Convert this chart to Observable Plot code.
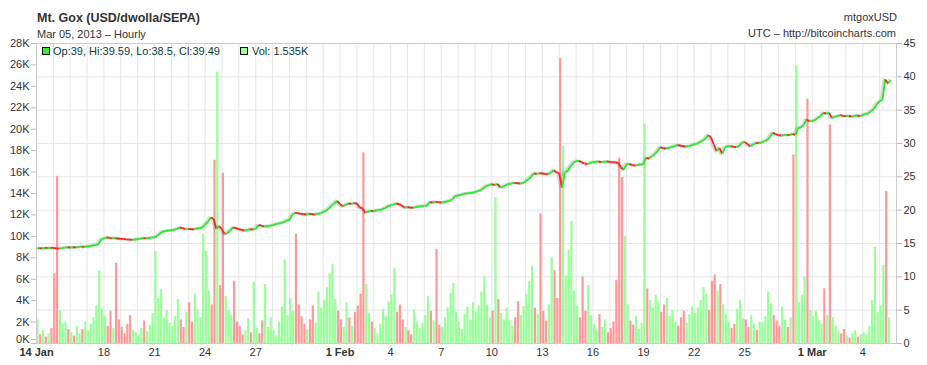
<!DOCTYPE html>
<html>
<head>
<meta charset="utf-8">
<script src="https://cdn.jsdelivr.net/npm/d3@7"></script>
<script src="https://cdn.jsdelivr.net/npm/@observablehq/plot@0.6"></script>
<style>
  html, body { margin: 0; padding: 0; background: #fff; }
  #wrap { position: relative; width: 927px; height: 365px; }
  #overlay { position: absolute; left: 0; top: 0; pointer-events: none; }
  text { font-family: "Liberation Sans", Arial, sans-serif; }
</style>
</head>
<body>
<div id="wrap"></div>
<script>
// ---- data (4-hour candles starting 14 Jan 2013 00:00 UTC) ----
const firstOpen = 14.30;
// closing price (USD) of each 4-hour candle, one row per day
const closeByDay = [
  [14.30, 14.27, 14.33, 14.30, 14.35, 14.34], // Jan 14
  [14.28, 14.24, 14.32, 14.38, 14.42, 14.40],
  [14.44, 14.41, 14.48, 14.52, 14.50, 14.58],
  [14.62, 14.70, 14.78, 14.85, 15.60, 15.75],
  [15.90, 15.85, 15.80, 15.82, 15.75, 15.70],
  [15.68, 15.62, 15.58, 15.55, 15.60, 15.65],
  [15.72, 15.80, 15.78, 15.84, 15.88, 15.92],
  [16.15, 16.50, 16.80, 16.85, 16.95, 17.00],
  [17.05, 17.20, 17.40, 17.30, 17.15, 17.20],
  [17.15, 17.10, 17.25, 17.30, 17.40, 17.80],
  [18.25, 18.90, 18.70, 17.20, 17.60, 17.10], // Jan 24
  [16.40, 16.60, 17.00, 17.40, 17.30, 17.15],
  [17.05, 16.95, 17.00, 17.15, 17.10, 17.20],
  [17.75, 17.70, 17.55, 17.60, 17.65, 17.75],
  [17.85, 18.00, 18.05, 18.20, 18.45, 18.50],
  [19.30, 19.60, 19.55, 19.45, 19.40, 19.35],
  [19.45, 19.40, 19.35, 19.45, 19.50, 19.70],
  [19.90, 20.20, 20.70, 21.00, 21.40, 20.90],
  [20.60, 20.80, 21.00, 20.95, 21.05, 21.00], // Feb 1
  [20.40, 20.30, 19.60, 19.80, 19.90, 19.85],
  [19.95, 20.05, 20.10, 20.30, 20.60, 20.70],
  [20.85, 21.00, 20.90, 20.70, 20.40, 20.45],
  [20.40, 20.35, 20.45, 20.55, 20.60, 20.65],
  [20.70, 21.20, 21.15, 21.25, 21.20, 21.15],
  [21.20, 21.30, 21.40, 21.60, 22.10, 22.20],
  [22.30, 22.45, 22.50, 22.55, 22.60, 22.70],
  [22.85, 22.95, 23.30, 23.60, 23.75, 23.90],
  [23.75, 23.95, 23.45, 23.50, 23.75, 23.90], // Feb 10
  [24.00, 24.10, 24.05, 24.00, 24.05, 24.30],
  [24.60, 25.00, 25.50, 25.45, 25.55, 25.50],
  [25.45, 25.40, 25.60, 26.00, 25.70, 25.50],
  [23.40, 25.60, 25.90, 26.60, 27.10, 27.35],
  [27.40, 27.20, 27.00, 26.90, 27.05, 27.20],
  [27.25, 27.30, 27.20, 27.25, 27.30, 27.25],
  [27.20, 27.15, 27.10, 26.40, 26.10, 26.90],
  [26.95, 26.75, 26.70, 26.80, 26.85, 26.90],
  [27.85, 27.75, 28.10, 28.40, 28.85, 29.45], // Feb 19
  [29.30, 29.25, 29.35, 29.45, 29.60, 29.75],
  [29.70, 29.60, 29.55, 29.60, 29.70, 29.90],
  [29.95, 30.20, 30.40, 30.75, 31.25, 30.90],
  [29.85, 28.85, 29.35, 28.45, 29.40, 29.60],
  [29.60, 29.50, 29.45, 29.60, 30.10, 30.25],
  [29.90, 29.60, 29.80, 30.10, 30.05, 30.15],
  [30.35, 30.50, 31.00, 31.60, 31.40, 31.25],
  [31.20, 31.25, 31.30, 31.25, 31.45, 31.30],
  [32.35, 32.40, 32.75, 33.60, 33.35, 33.40], // Feb 28
  [33.50, 33.85, 34.10, 34.60, 34.50, 34.60], // Mar 1
  [33.85, 34.00, 34.10, 34.25, 34.15, 34.10],
  [34.15, 34.05, 34.10, 34.20, 34.10, 34.25],
  [34.45, 34.50, 34.85, 35.20, 35.90, 36.30],
  [36.60, 39.60, 39.00, 39.49]                // Mar 5
];
// volume (thousands of BTC) of each bar, one row per day
const volumeByDay = [
  [2.2, 0.8, 1.2, 0.6, 0.9, 1.4],
  [6.5, 15.6, 3.1, 1.8, 2.0, 1.3],
  [1.0, 0.7, 1.6, 0.9, 1.3, 2.0],
  [1.2, 1.8, 2.4, 3.5, 6.8, 3.2],
  [2.5, 1.6, 3.0, 1.4, 7.5, 2.2],
  [1.5, 0.9, 1.8, 2.6, 1.2, 1.0],
  [0.8, 1.4, 2.1, 1.1, 1.7, 2.8],
  [8.6, 4.2, 5.0, 2.4, 3.1, 1.9],
  [1.6, 2.5, 4.1, 2.2, 1.5, 2.9],
  [3.8, 2.0, 4.6, 3.2, 2.4, 10.2],
  [8.6, 4.9, 3.6, 17.1, 25.3, 5.4],
  [15.9, 4.4, 3.1, 2.6, 5.8, 2.0],
  [1.6, 0.8, 1.2, 2.3, 1.0, 5.7],
  [1.4, 0.9, 2.1, 5.5, 1.5, 2.4],
  [1.2, 0.7, 2.0, 3.4, 7.8, 2.6],
  [4.2, 3.0, 10.2, 3.6, 2.5, 1.8],
  [1.3, 2.2, 3.5, 1.9, 4.8, 3.3],
  [4.0, 5.2, 6.5, 7.4, 4.1, 3.0],
  [2.2, 1.5, 3.8, 2.4, 1.6, 2.9],
  [3.5, 4.6, 17.8, 5.5, 2.8, 2.0],
  [1.4, 0.9, 1.8, 3.2, 2.5, 3.9],
  [4.5, 7.0, 2.9, 3.6, 2.2, 1.5],
  [1.2, 0.8, 3.1, 2.0, 1.4, 1.9],
  [2.6, 4.4, 3.0, 2.1, 8.8, 1.7],
  [1.5, 2.4, 3.3, 4.7, 5.6, 2.9],
  [2.0, 1.3, 2.7, 3.4, 2.2, 3.8],
  [2.9, 3.5, 4.8, 6.2, 3.6, 2.4],
  [3.0, 13.6, 4.1, 2.8, 2.2, 3.3],
  [2.1, 1.6, 2.4, 3.9, 2.6, 3.5],
  [4.6, 5.8, 7.2, 3.3, 2.7, 12.1],
  [3.0, 2.1, 3.6, 8.0, 6.8, 4.2],
  [26.6, 18.4, 6.3, 8.7, 11.4, 4.9],
  [3.5, 2.4, 6.2, 3.0, 5.4, 2.6],
  [1.8, 1.2, 2.7, 1.5, 2.2, 1.0],
  [1.4, 2.0, 5.9, 17.3, 15.5, 10.0],
  [3.6, 2.1, 1.7, 2.5, 1.3, 1.9],
  [20.5, 5.1, 4.0, 3.3, 4.5, 3.8],
  [2.9, 3.6, 4.2, 2.5, 3.1, 2.0],
  [1.6, 2.4, 3.0, 1.9, 2.7, 3.4],
  [2.8, 3.3, 4.0, 5.2, 4.6, 3.1],
  [5.8, 6.4, 4.9, 5.5, 3.6, 2.7],
  [2.0, 1.4, 1.8, 3.2, 4.0, 2.3],
  [2.2, 1.5, 2.6, 1.8, 1.2, 2.0],
  [1.9, 2.5, 4.8, 3.7, 2.6, 2.1],
  [1.6, 3.4, 2.2, 1.5, 2.4, 17.6],
  [25.9, 3.8, 4.5, 6.2, 22.8, 3.1],
  [2.5, 3.0, 2.2, 1.8, 5.1, 2.6],
  [20.4, 2.4, 1.6, 1.1, 0.9, 1.3],
  [0.7, 0.5, 0.9, 1.2, 0.6, 0.8],
  [1.0, 0.8, 1.6, 4.0, 9.0, 2.9],
  [3.5, 7.3, 14.2, 2.4]
];
const volumeTicks = [0, 2, 4, 6, 8, 10, 12, 14, 16, 18, 20, 22, 24, 26, 28];
const priceTicks = [0, 5, 10, 15, 20, 25, 30, 35, 40, 45];
const dayTicks = ["2013-01-18", "2013-01-21", "2013-01-24", "2013-01-27", "2013-02-04", "2013-02-07",
  "2013-02-10", "2013-02-13", "2013-02-16", "2013-02-19", "2013-02-22", "2013-02-25", "2013-03-04"];
const monthTicks = ["2013-01-14", "2013-02-01", "2013-03-01"];
const monthTickLabels = ["14 Jan", "1 Feb", "1 Mar"];

// ---- build ----
const start = Date.UTC(2013, 0, 14);
const end = Date.UTC(2013, 2, 6);
const H4 = 4 * 3600e3;
const closes = closeByDay.flat();
const vols = volumeByDay.flat();
const bars = closes.map((c, i) => ({
  t0: new Date(start + i * H4),
  t1: new Date(start + (i + 1) * H4),
  tm: new Date(start + i * H4 + H4 / 2),
  open: i ? closes[i - 1] : firstOpen,
  close: c,
  vol: vols[i]
}));
const k = 28 / 45; // price -> volume-axis units
const up = d => d.close >= d.open;
const parse = s => new Date(s + "T00:00:00Z");
const gridDays = d3.utcDay.range(new Date(start + 864e5), new Date(end));

const chart = Plot.plot({
  width: 927,
  height: 365,
  marginTop: 43,
  marginBottom: 22,
  marginLeft: 36,
  marginRight: 31,
  x: { type: "utc", domain: [new Date(start), new Date(end)] },
  y: { domain: [0, 28] },
  style: { fontFamily: "'Liberation Sans', Arial, sans-serif", fontSize: "11px", color: "#333", background: "#fff" },
  marks: [
    Plot.gridX(gridDays, { stroke: "#e6e6e6", strokeOpacity: 1 }),
    Plot.gridY(priceTicks.map(p => p * k), { stroke: "#e6e6e6", strokeOpacity: 1 }),
    Plot.rectY(bars, { x1: "t0", x2: "t1", y: "vol", fill: d => up(d) ? "#99ff99" : "#ff9999", insetLeft: 0.3, insetRight: 0.3 }),
    Plot.line(bars, { x: "tm", y: d => d.close * k, stroke: "#999", strokeWidth: 3, strokeOpacity: 0.35 }),
    Plot.link(bars, { x1: "t0", y1: d => d.open * k, x2: "t1", y2: d => d.close * k, stroke: d => up(d) ? "#22ee22" : "#ff2222", strokeWidth: 1.8 }),
    Plot.frame({ stroke: "#ccc" }),
    Plot.axisY(volumeTicks, { anchor: "left", tickFormat: d => d ? d + "K" : "", tickSize: 5, tickPadding: 2, stroke: "#bbb", fill: "#333", label: null }),
    Plot.axisY([0], { anchor: "left", tickFormat: d => d + "K", tickSize: 5, tickPadding: 2, dy: -4, stroke: "#bbb", fill: "#333", label: null }),
    Plot.axisY(priceTicks.map(p => p * k), { anchor: "right", tickFormat: v => String(Math.round(v / k)), tickSize: 5, tickPadding: 2, stroke: "#bbb", fill: "#333", label: null }),
    Plot.axisX(dayTicks.map(parse), { tickFormat: d3.utcFormat("%-d"), tickSize: 0, tickPadding: 5, fill: "#333", label: null }),
    Plot.axisX(monthTicks.map(parse), { tickFormat: (d, i) => monthTickLabels[i], tickSize: 0, tickPadding: 5, fill: "#333", fontWeight: "bold", label: null })
  ]
});

const wrap = document.getElementById("wrap");
wrap.appendChild(chart);

// ---- header + legend texts ----
const ns = "http://www.w3.org/2000/svg";
const ov = document.createElementNS(ns, "svg");
ov.setAttribute("id", "overlay");
ov.setAttribute("width", 927);
ov.setAttribute("height", 365);
function txt(x, y, s, opts = {}) {
  const t = document.createElementNS(ns, "text");
  t.setAttribute("x", x); t.setAttribute("y", y);
  t.setAttribute("font-size", opts.size || 11);
  t.setAttribute("fill", opts.fill || "#333");
  if (opts.weight) t.setAttribute("font-weight", opts.weight);
  if (opts.anchor) t.setAttribute("text-anchor", opts.anchor);
  t.textContent = s;
  ov.appendChild(t);
}
function box(x, y, fill) {
  const r = document.createElementNS(ns, "rect");
  r.setAttribute("x", x); r.setAttribute("y", y);
  r.setAttribute("width", 7); r.setAttribute("height", 7);
  r.setAttribute("fill", fill); r.setAttribute("stroke", "#111"); r.setAttribute("stroke-width", 1);
  ov.appendChild(r);
}
txt(37, 22, "Mt. Gox (USD/dwolla/SEPA)", { size: 12.5, weight: "bold" });
txt(37, 38, "Mar 05, 2013 \u2013 Hourly", { size: 11 });
txt(897, 21, "mtgoxUSD", { size: 11, anchor: "end" });
txt(896, 37, "UTC \u2013 http://bitcoincharts.com", { size: 11, anchor: "end" });
box(42.5, 47.5, "#33ee33");
txt(53, 55, "Op:39, Hi:39.59, Lo:38.5, Cl:39.49", { size: 11, fill: "#0a3b3b" });
box(240.5, 47.5, "#99ff99");
txt(252, 55, "Vol: 1.535K", { size: 11, fill: "#0a3b3b" });
wrap.appendChild(ov);
</script>
</body>
</html>
